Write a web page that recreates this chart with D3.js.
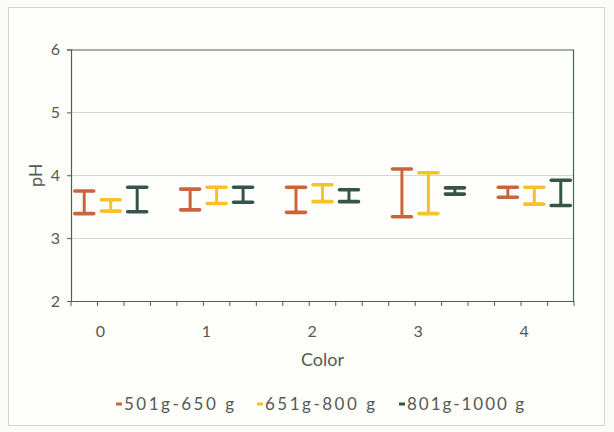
<!DOCTYPE html>
<html>
<head>
<meta charset="utf-8">
<script src="https://cdn.jsdelivr.net/npm/d3@7"></script>
<style>
  html, body { margin: 0; padding: 0; background: #fbfbf7; }
  svg { display: block; }
  text { font-family: Lato, "Open Sans", sans-serif; fill: #555a55; }
</style>
</head>
<body>
<svg id="chart" width="614" height="432"></svg>
<script>
// pH range (low / high) per colour score, one pair of arrays per weight class
const colorScores = [0, 1, 2, 3, 4];
const seriesNames = ["501g-650 g", "651g-800 g", "801g-1000 g"];
const seriesColors = ["#c9653d", "#f5c22a", "#36544a"];

const high501 = [3.75, 3.78, 3.81, 4.10, 3.81];
const low501  = [3.39, 3.45, 3.41, 3.34, 3.65];
const high651 = [3.61, 3.81, 3.85, 4.04, 3.81];
const low651  = [3.43, 3.55, 3.58, 3.39, 3.54];
const high801 = [3.81, 3.81, 3.77, 3.80, 3.92];
const low801  = [3.42, 3.57, 3.58, 3.70, 3.52];

const yTicks = [2, 3, 4, 5, 6];

const highs = [high501, high651, high801];
const lows = [low501, low651, low801];

// each colour score takes three slots (one per weight class) plus a spacer slot
const slots = d3.range(colorScores.length * 4 - 1);

const svg = d3.select("#chart");
const plotLeft = 71, plotRight = 574, plotTop = 49.5, plotBottom = 301;
const axisColor = "#4d6152";

// outer frame
svg.append("rect")
  .attr("x", 8.5).attr("y", 7.5).attr("width", 596).attr("height", 418)
  .attr("fill", "#fdfdfa").attr("stroke", "#d4d6d0").attr("stroke-width", 1);

const x = d3.scaleBand().domain(slots).range([plotLeft, plotRight]).padding(0);
const y = d3.scaleLinear().domain([2, 6]).range([plotBottom, plotTop]);

// plot area
svg.append("rect")
  .attr("x", plotLeft).attr("y", plotTop)
  .attr("width", plotRight - plotLeft).attr("height", plotBottom - plotTop)
  .attr("fill", "#fefefc");

// horizontal gridlines
svg.append("g")
  .selectAll("line")
  .data(yTicks.filter(t => t > 2 && t < 6))
  .join("line")
  .attr("x1", plotLeft).attr("x2", plotRight)
  .attr("y1", d => Math.round(y(d)) + 0.5).attr("y2", d => Math.round(y(d)) + 0.5)
  .attr("stroke", "#d6d7d2").attr("stroke-width", 1);

// plot border (top and right)
svg.append("path")
  .attr("d", `M${plotLeft},${plotTop + 0.5}H${plotRight - 0.5}V${plotBottom}`)
  .attr("fill", "none").attr("stroke", axisColor).attr("stroke-width", 1.2);

// y axis
const yAxis = d3.axisLeft(y).tickValues(yTicks).tickSize(4).tickPadding(7).tickFormat(d3.format("d"));
const gy = svg.append("g").attr("transform", `translate(${plotLeft},0)`).call(yAxis);
gy.select(".domain").attr("stroke", axisColor).attr("stroke-width", 1.2);
gy.selectAll(".tick line").attr("stroke", axisColor);
gy.selectAll(".tick text").style("font-size", "16px").attr("fill", "#555a55");

// x axis: ticks at every slot boundary
const boundaries = slots.map(s => x(s)).concat([plotRight]);
const gx = svg.append("g");
gx.append("line")
  .attr("x1", plotLeft).attr("x2", plotRight)
  .attr("y1", plotBottom + 0.5).attr("y2", plotBottom + 0.5)
  .attr("stroke", axisColor).attr("stroke-width", 1.2);
gx.selectAll("line.tick")
  .data(boundaries)
  .join("line")
  .attr("class", "tick")
  .attr("x1", d => d).attr("x2", d => d)
  .attr("y1", plotBottom).attr("y2", plotBottom + 5)
  .attr("stroke", axisColor).attr("stroke-width", 1);
gx.selectAll("text")
  .data(colorScores)
  .join("text")
  .attr("x", (d, i) => x(i * 4 + 1) + 3)
  .attr("y", plotBottom + 36)
  .attr("text-anchor", "middle")
  .style("font-size", "16px")
  .text(d => d);

// high-low bars
const bars = [];
seriesNames.forEach((name, s) => {
  colorScores.forEach((c, i) => {
    bars.push({ s, slot: i * 4 + s, hi: highs[s][i], lo: lows[s][i] });
  });
});
const capW = 19;
const g = svg.append("g");
const bar = g.selectAll("g.bar").data(bars).join("g").attr("class", "bar");
bar.append("line")
  .attr("x1", d => x(d.slot) + x.bandwidth() / 2)
  .attr("x2", d => x(d.slot) + x.bandwidth() / 2)
  .attr("y1", d => y(d.hi)).attr("y2", d => y(d.lo))
  .attr("stroke", d => seriesColors[d.s]).attr("stroke-width", 3);
["hi", "lo"].forEach(k => {
  bar.append("line")
    .attr("x1", d => x(d.slot) + x.bandwidth() / 2 - capW / 2)
    .attr("x2", d => x(d.slot) + x.bandwidth() / 2 + capW / 2)
    .attr("y1", d => y(d[k])).attr("y2", d => y(d[k]))
    .attr("stroke", d => seriesColors[d.s]).attr("stroke-width", 3.6)
    .attr("stroke-linecap", "round");
});

// axis titles
svg.append("text")
  .attr("transform", `translate(42,${(plotTop + plotBottom) / 2}) rotate(-90)`)
  .attr("text-anchor", "middle")
  .style("font-size", "18px")
  .text("pH");
svg.append("text")
  .attr("x", (plotLeft + plotRight) / 2)
  .attr("y", 366)
  .attr("text-anchor", "middle")
  .style("font-size", "18px")
  .text("Color");

// legend
const legendX = [116, 257, 399];
const leg = svg.append("g").selectAll("g").data(seriesNames).join("g")
  .attr("transform", (d, i) => `translate(${legendX[i]},404)`);
leg.append("line")
  .attr("x1", 0).attr("x2", 6).attr("y1", 0).attr("y2", 0)
  .attr("stroke", (d, i) => seriesColors[i]).attr("stroke-width", 3);
leg.append("text")
  .attr("x", 8).attr("y", 6)
  .style("font-size", "17px")
  .attr("textLength", (d, i) => [110, 110, 117][i])
  .attr("lengthAdjust", "spacing")
  .text(d => d);
</script>
</body>
</html>
